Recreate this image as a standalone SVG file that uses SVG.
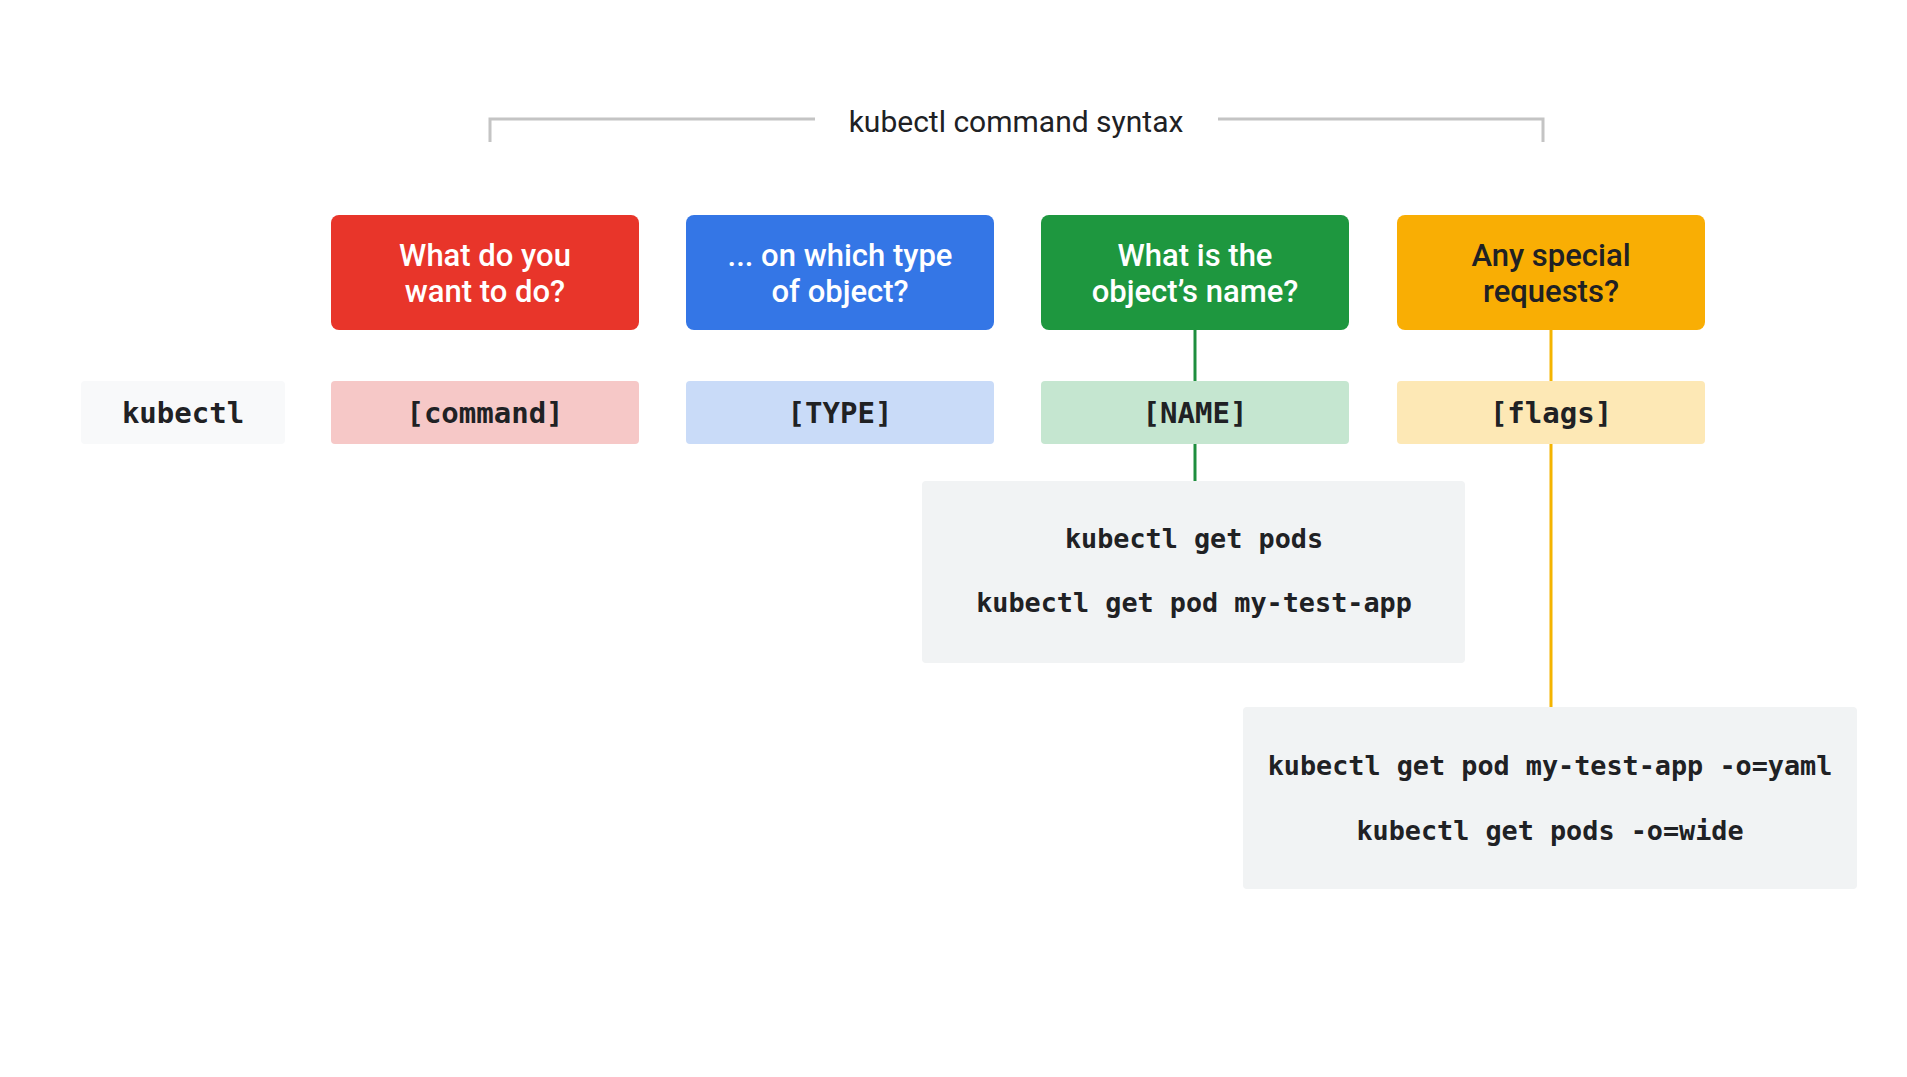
<svg xmlns="http://www.w3.org/2000/svg" width="1907" height="1077" viewBox="0 0 1907 1077">
<style>
.sans{font-family:Roboto,"Open Sans","Liberation Sans",sans-serif;}
.q{font-size:31px;font-weight:500;text-anchor:middle;fill:#ffffff;}
.qd{fill:#202124;}
.mono{font-family:"DejaVu Sans Mono","Liberation Mono",monospace;font-weight:bold;fill:#202124;text-anchor:middle;}
.lbl{font-size:29px;}
.cmd{font-size:26.8px;}
.code{fill:#f1f3f4;}
.br{fill:none;stroke:#c4c4c4;stroke-width:3;}
</style>
<rect width="1907" height="1077" fill="#ffffff"/>
<g id="title">
<path class="br" d="M490,142 V119 H815"/>
<path class="br" d="M1218,119 H1543 V142"/>
<text class="sans" x="1016" y="132" font-size="30" text-anchor="middle" fill="#202124">kubectl command syntax</text>
</g>
<g id="connectors">
<line x1="1195" y1="330" x2="1195" y2="381" stroke="#1e8e3e" stroke-width="3"/>
<line x1="1195" y1="444" x2="1195" y2="481" stroke="#1e8e3e" stroke-width="3"/>
<line x1="1551" y1="330" x2="1551" y2="381" stroke="#f4b400" stroke-width="3"/>
<line x1="1551" y1="444" x2="1551" y2="707" stroke="#f4b400" stroke-width="3"/>
</g>
<g id="q-command">
<rect x="331" y="215" width="308" height="115" rx="8" fill="#e8352a"/>
<text class="sans q" x="485" y="266">What do you</text>
<text class="sans q" x="485" y="302">want to do?</text>
</g>
<g id="q-type">
<rect x="686" y="215" width="308" height="115" rx="8" fill="#3476e6"/>
<text class="sans q" x="840" y="266">... on which type</text>
<text class="sans q" x="840" y="302">of object?</text>
</g>
<g id="q-name">
<rect x="1041" y="215" width="308" height="115" rx="8" fill="#1e973f"/>
<text class="sans q" x="1195" y="266">What is the</text>
<text class="sans q" x="1195" y="302">object’s name?</text>
</g>
<g id="q-flags">
<rect x="1397" y="215" width="308" height="115" rx="8" fill="#f9ae04"/>
<text class="sans q qd" x="1551" y="266">Any special</text>
<text class="sans q qd" x="1551" y="302">requests?</text>
</g>
<g id="kubectl">
<rect x="81" y="381" width="204" height="63" rx="4" fill="#f8f9fa"/>
<text class="mono lbl" x="183" y="423">kubectl</text>
</g>
<g id="command">
<rect x="331" y="381" width="308" height="63" rx="4" fill="#f6c8c7"/>
<text class="mono lbl" x="485" y="423">[command]</text>
</g>
<g id="type">
<rect x="686" y="381" width="308" height="63" rx="4" fill="#c9dbf8"/>
<text class="mono lbl" x="840" y="423">[TYPE]</text>
</g>
<g id="name">
<rect x="1041" y="381" width="308" height="63" rx="4" fill="#c5e6d0"/>
<text class="mono lbl" x="1195" y="423">[NAME]</text>
</g>
<g id="flags">
<rect x="1397" y="381" width="308" height="63" rx="4" fill="#fde8b5"/>
<text class="mono lbl" x="1551" y="423">[flags]</text>
</g>
<g id="name-examples">
<rect class="code" x="922" y="481" width="543" height="182" rx="4"/>
<text class="mono cmd" x="1194" y="548">kubectl get pods</text>
<text class="mono cmd" x="1194" y="612">kubectl get pod my-test-app</text>
</g>
<g id="flags-examples">
<rect class="code" x="1243" y="707" width="614" height="182" rx="4"/>
<text class="mono cmd" x="1550" y="775">kubectl get pod my-test-app -o=yaml</text>
<text class="mono cmd" x="1550" y="840">kubectl get pods -o=wide</text>
</g>
</svg>
